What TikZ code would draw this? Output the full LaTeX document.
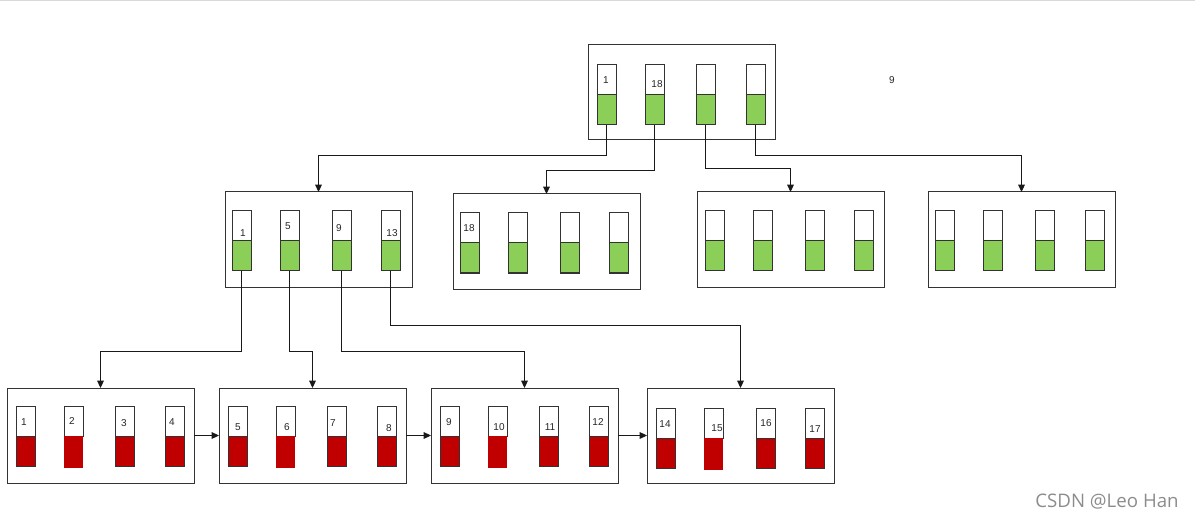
\documentclass[tikz,border=0pt]{standalone}
\usepackage{fontspec}
\setmainfont{Liberation Sans}
\newfontfamily\wmfont{Open Sans}
\usetikzlibrary{arrows.meta}
\definecolor{gfill}{HTML}{8BCF59}
\definecolor{rfill}{HTML}{C00000}
\definecolor{edge}{HTML}{333333}
\tikzset{
  box/.style={draw=edge, line width=0.75pt, fill=white, inner sep=0, outer sep=0,
    minimum width={187*0.75pt}, minimum height={95*0.75pt}},
  topcell/.style={draw=edge, line width=0.75pt, fill=white, inner sep=0, outer sep=0,
    minimum width={19*0.75pt}, minimum height={30*0.75pt}},
  botcell/.style={draw=edge, line width=0.75pt, inner sep=0, outer sep=0,
    minimum width={19*0.75pt}, minimum height={30*0.75pt}},
  plaincell/.style={inner sep=0, outer sep=0,
    minimum width={19*0.75pt}, minimum height={32*0.75pt}},
  lbl/.style={font=\fontsize{7.5}{8}\selectfont, text=black!85, inner sep=0},
  arr/.style={draw=black!90, line width=0.7pt, -{Triangle[length=5.5pt,width=5pt]}},
}
\newcommand\mkcol[5]{%
  \node[topcell, anchor=north west] (#1t) at (#2,#3) {};
  \node[#5, fill=#4, anchor=north] (#1b) at (#1t.south) {};
}
\begin{document}
\begin{tikzpicture}[x=0.75pt,y=-0.75pt]
\useasboundingbox (0,0) rectangle (1195,520);
\draw[black!15, line width=0.8pt] (0,0.6) -- (1195,0.6);
% boxes
\node[box, anchor=north west] (R) at (588,45) {};
\node[box, anchor=north west] (A) at (225,192) {};
\node[box, anchor=north west] (B) at (453,194) {};
\node[box, anchor=north west] (C) at (697,192) {};
\node[box, anchor=north west] (D) at (928,192) {};
\node[box, anchor=north west] (L1) at (7,388) {};
\node[box, anchor=north west] (L2) at (219,388) {};
\node[box, anchor=north west] (L3) at (431,388) {};
\node[box, anchor=north west] (L4) at (647,388) {};
% root columns
\mkcol{r1}{597}{65}{gfill}{botcell}
\mkcol{r2}{645}{65}{gfill}{botcell}
\mkcol{r3}{696}{65}{gfill}{botcell}
\mkcol{r4}{746}{65}{gfill}{botcell}
% level 2
\mkcol{a1}{232}{211}{gfill}{botcell}
\mkcol{a2}{280}{211}{gfill}{botcell}
\mkcol{a3}{332}{211}{gfill}{botcell}
\mkcol{a4}{381}{211}{gfill}{botcell}
\mkcol{b1}{460}{213}{gfill}{botcell}
\mkcol{b2}{508}{213}{gfill}{botcell}
\mkcol{b3}{560}{213}{gfill}{botcell}
\mkcol{b4}{609}{213}{gfill}{botcell}
\mkcol{c1}{705}{211}{gfill}{botcell}
\mkcol{c2}{753}{211}{gfill}{botcell}
\mkcol{c3}{805}{211}{gfill}{botcell}
\mkcol{c4}{854}{211}{gfill}{botcell}
\mkcol{d1}{935}{211}{gfill}{botcell}
\mkcol{d2}{983}{211}{gfill}{botcell}
\mkcol{d3}{1035}{211}{gfill}{botcell}
\mkcol{d4}{1085}{211}{gfill}{botcell}
% leaves
\mkcol{e1}{16}{406}{rfill}{botcell}
\mkcol{e2}{64}{406}{rfill}{plaincell}
\mkcol{e3}{115}{406}{rfill}{botcell}
\mkcol{e4}{165}{406}{rfill}{botcell}
\mkcol{f1}{228}{406}{rfill}{botcell}
\mkcol{f2}{276}{406}{rfill}{plaincell}
\mkcol{f3}{327}{406}{rfill}{botcell}
\mkcol{f4}{377}{406}{rfill}{botcell}
\mkcol{g1}{440}{406}{rfill}{botcell}
\mkcol{g2}{488}{406}{rfill}{plaincell}
\mkcol{g3}{539}{406}{rfill}{botcell}
\mkcol{g4}{589}{406}{rfill}{botcell}
\mkcol{h1}{656}{408}{rfill}{botcell}
\mkcol{h2}{704}{408}{rfill}{plaincell}
\mkcol{h3}{756}{408}{rfill}{botcell}
\mkcol{h4}{805}{408}{rfill}{botcell}
% labels
\node[lbl] (tr1) at (606,80) {1};
\node[lbl] (tr2) at (657,84) {18};
\node[lbl] (t9) at (892,80) {9};
\node[lbl] (ta1) at (243,233) {1};
\node[lbl] (ta2) at (288,226) {5};
\node[lbl] (ta3) at (339,228) {9};
\node[lbl] (ta4) at (392,233) {13};
\node[lbl] (tb1) at (469,228) {18};
\node[lbl] (te1) at (24,422) {1};
\node[lbl] (te2) at (72,421) {2};
\node[lbl] (te3) at (124,423) {3};
\node[lbl] (te4) at (172,422) {4};
\node[lbl] (tf1) at (238,427) {5};
\node[lbl] (tf2) at (287,427) {6};
\node[lbl] (tf3) at (333,423) {7};
\node[lbl] (tf4) at (389,428) {8};
\node[lbl] (tg1) at (449,422) {9};
\node[lbl] (tg2) at (499,427) {10};
\node[lbl] (tg3) at (550,427) {11};
\node[lbl] (tg4) at (598,422) {12};
\node[lbl] (th1) at (665,424) {14};
\node[lbl] (th2) at (717,428) {15};
\node[lbl] (th3) at (766,423) {16};
\node[lbl] (th4) at (815,429) {17};
% connectors root -> level 2
\draw[arr] (r1b.south) -- (r1b.south |- 0,155) -| (A.north);
\draw[arr] (r2b.south) -- (r2b.south |- 0,170) -| (B.north);
\draw[arr] (r3b.south) -- (r3b.south |- 0,168) -| (C.north);
\draw[arr] (r4b.south) -- (r4b.south |- 0,155) -| (D.north);
% level 2 -> leaves
\draw[arr] (a1b.south) -- (a1b.south |- 0,351) -| (L1.north);
\draw[arr] (a2b.south) -- (a2b.south |- 0,351) -| (L2.north);
\draw[arr] (a3b.south) -- (a3b.south |- 0,351) -| (L3.north);
\draw[arr] (a4b.south) -- (a4b.south |- 0,325) -| (L4.north);
% leaf chain
\draw[arr] (L1.east) -- (L2.west);
\draw[arr] (L2.east) -- (L3.west);
\draw[arr] (L3.east) -- (L4.west);
% watermark
\node[font=\wmfont\fontsize{14}{16}\selectfont, text=black!45, inner sep=0] (wm) at (1107,502) {CSDN @Leo Han};
\end{tikzpicture}
\end{document}
